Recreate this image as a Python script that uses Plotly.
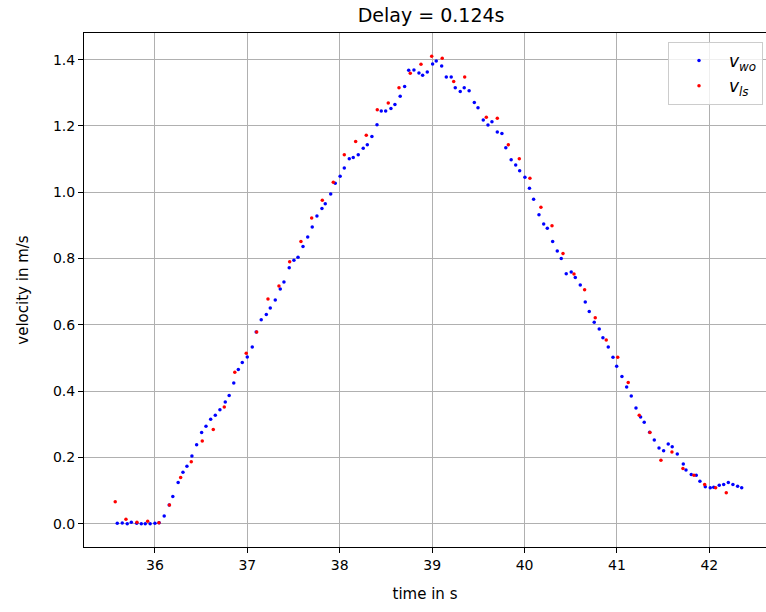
import plotly.graph_objects as go

# Wheel-odometry velocity samples (time in s, velocity in m/s)
t_wo = [35.592, 35.646, 35.700, 35.744, 35.802, 35.852, 35.895, 35.948, 36.000, 36.045,
        36.100, 36.154, 36.193, 36.251, 36.303, 36.346, 36.400, 36.451, 36.505, 36.552,
        36.603, 36.653, 36.703, 36.761, 36.803, 36.853, 36.902, 36.945, 36.999, 37.053,
        37.096, 37.150, 37.205, 37.248, 37.302, 37.356, 37.396, 37.453, 37.504, 37.548,
        37.602, 37.653, 37.702, 37.753, 37.807, 37.843, 37.902, 37.951, 38.004, 38.049,
        38.103, 38.146, 38.200, 38.254, 38.298, 38.348, 38.403, 38.449, 38.497, 38.554,
        38.597, 38.654, 38.702, 38.746, 38.803, 38.857, 38.897, 38.947, 39.005, 39.044,
        39.103, 39.153, 39.206, 39.250, 39.304, 39.347, 39.400, 39.456, 39.496, 39.553,
        39.604, 39.647, 39.705, 39.755, 39.797, 39.855, 39.904, 39.947, 40.004, 40.053,
        40.098, 40.156, 40.207, 40.246, 40.304, 40.354, 40.397, 40.451, 40.505, 40.549,
        40.603, 40.657, 40.700, 40.754, 40.808, 40.848, 40.906, 40.957, 40.997, 41.054,
        41.105, 41.155, 41.206, 41.256, 41.295, 41.354, 41.404, 41.455, 41.505, 41.555,
        41.598, 41.653, 41.718, 41.747, 41.804, 41.858, 41.898, 41.956, 42.010, 42.047,
        42.107, 42.155, 42.205, 42.255, 42.306, 42.350]
v_wo = [0.001, 0.002, 0.000, 0.004, 0.001, 0.000, 0.000, 0.000, 0.001, 0.003,
        0.023, 0.056, 0.082, 0.124, 0.155, 0.173, 0.204, 0.238, 0.275, 0.294,
        0.315, 0.327, 0.344, 0.367, 0.387, 0.424, 0.465, 0.486, 0.503, 0.533,
        0.578, 0.615, 0.631, 0.651, 0.675, 0.708, 0.729, 0.772, 0.795, 0.804,
        0.836, 0.865, 0.895, 0.928, 0.951, 0.965, 0.995, 1.027, 1.048, 1.073,
        1.101, 1.105, 1.113, 1.133, 1.143, 1.168, 1.204, 1.245, 1.245, 1.253,
        1.265, 1.290, 1.319, 1.368, 1.369, 1.360, 1.353, 1.363, 1.387, 1.396,
        1.381, 1.348, 1.348, 1.315, 1.304, 1.315, 1.306, 1.271, 1.255, 1.218,
        1.203, 1.213, 1.182, 1.177, 1.134, 1.098, 1.082, 1.065, 1.045, 1.012,
        0.979, 0.932, 0.904, 0.891, 0.851, 0.823, 0.800, 0.754, 0.759, 0.743,
        0.720, 0.669, 0.640, 0.608, 0.587, 0.561, 0.533, 0.502, 0.475, 0.444,
        0.412, 0.385, 0.349, 0.322, 0.306, 0.276, 0.252, 0.228, 0.220, 0.240,
        0.232, 0.210, 0.180, 0.162, 0.148, 0.146, 0.128, 0.111, 0.108, 0.110,
        0.116, 0.118, 0.124, 0.118, 0.113, 0.108]

# Laser-scanner velocity samples, shifted by the estimated delay
t_ls = [35.570, 35.686, 35.805, 35.921, 36.043, 36.157, 36.278, 36.393, 36.512, 36.631,
        36.750, 36.864, 36.988, 37.101, 37.223, 37.342, 37.458, 37.580, 37.696, 37.811,
        37.930, 38.049, 38.172, 38.287, 38.406, 38.525, 38.641, 38.763, 38.879, 38.995,
        39.109, 39.233, 39.352, 39.586, 39.705, 39.824, 39.943, 40.058, 40.177, 40.297,
        40.416, 40.535, 40.650, 40.765, 40.884, 41.008, 41.122, 41.241, 41.357, 41.476,
        41.595, 41.714, 41.833, 41.949, 42.068, 42.183]
v_ls = [0.066, 0.013, 0.004, 0.007, 0.003, 0.056, 0.139, 0.187, 0.249, 0.284,
        0.352, 0.457, 0.514, 0.578, 0.678, 0.717, 0.790, 0.851, 0.922, 0.976,
        1.030, 1.113, 1.153, 1.172, 1.249, 1.269, 1.315, 1.359, 1.386, 1.410,
        1.404, 1.334, 1.348, 1.226, 1.223, 1.143, 1.101, 1.042, 0.955, 0.899,
        0.815, 0.753, 0.706, 0.621, 0.554, 0.502, 0.426, 0.327, 0.275, 0.191,
        0.216, 0.166, 0.146, 0.118, 0.108, 0.093]

delay = 0.124
x_ticks = [36, 37, 38, 39, 40, 41, 42]
y_ticks = [0.0, 0.2, 0.4, 0.6, 0.8, 1.0, 1.2, 1.4]

FONT = "DejaVu Sans"

fig = go.Figure()
fig.add_trace(go.Scatter(
    x=t_wo, y=v_wo, mode="markers", name="<i>v</i><sub><i>wo</i></sub>",
    marker=dict(color="#0000ff", size=3.5, line=dict(width=0)),
))
fig.add_trace(go.Scatter(
    x=t_ls, y=v_ls, mode="markers", name="<i>v</i><sub><i>ls</i></sub>",
    marker=dict(color="#ff0000", size=3.5, line=dict(width=0)),
))

axis_common = dict(
    showgrid=True, gridcolor="#b0b0b0", gridwidth=1,
    zeroline=False, showline=True, linecolor="black", linewidth=1,
    ticks="outside", ticklen=5, tickwidth=1, tickcolor="black",
    tickfont=dict(family=FONT, size=14, color="black"),
)

fig.update_layout(
    width=766, height=612,
    margin=dict(l=84, r=0, t=33, b=65),
    paper_bgcolor="white", plot_bgcolor="white",
    font=dict(family=FONT, color="black"),
    title=dict(text=f"Delay = {delay}s", x=0.509, xref="paper", xanchor="center",
               y=0.975, yref="container", yanchor="middle",
               font=dict(family=FONT, size=19, color="black")),
    xaxis=dict(range=[35.232, 42.613], tickvals=x_ticks, ticktext=[str(v) for v in x_ticks],
               mirror=True,
               title=dict(text="time in s", font=dict(family=FONT, size=15), standoff=16),
               **axis_common),
    yaxis=dict(range=[-0.0705, 1.4805], tickvals=y_ticks,
               ticktext=[f"{v:.1f}" for v in y_ticks],
               title=dict(text="velocity in m/s", font=dict(family=FONT, size=15), standoff=20),
               **axis_common),
    legend=dict(x=0.9956, y=0.9825, xanchor="right", yanchor="top",
                bgcolor="rgba(255,255,255,0.8)", bordercolor="#cccccc", borderwidth=1,
                font=dict(family=FONT, size=17, color="black"),
                itemsizing="trace", itemwidth=50, tracegroupgap=2),
    showlegend=True,
)

fig.write_html("out.html")
